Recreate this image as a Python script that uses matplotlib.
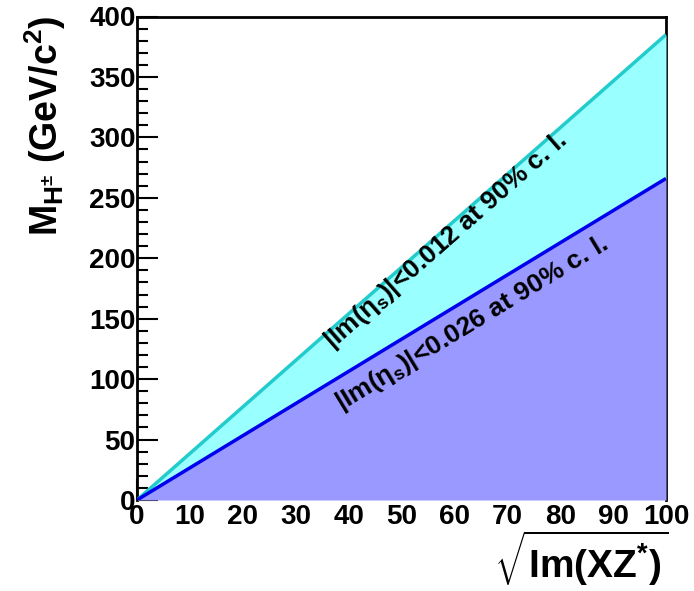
import numpy as np
import matplotlib
matplotlib.use("Agg")
import matplotlib.pyplot as plt

# values
x_limits = [0, 100]
y_limits = [0, 400]
upper_end = 385.0   # |Im(eta_s)| < 0.012 curve at x = 100
lower_end = 266.0   # |Im(eta_s)| < 0.026 curve at x = 100
upper_text = r'|Im($\eta_{s}$)|<0.012 at 90% c. l.'
lower_text = r'|Im($\eta_{s}$)|<0.026 at 90% c. l.'
x_title = r'$\sqrt{\mathrm{Im(XZ^{*})}}$'
y_title = r'M$_{\mathrm{H}^{\pm}}$ (GeV/c$^{2}$)'

plt.rcParams['font.family'] = ['Liberation Sans', 'DejaVu Sans']
plt.rcParams['font.weight'] = 'bold'
plt.rcParams['mathtext.fontset'] = 'custom'
plt.rcParams['mathtext.rm'] = 'Liberation Sans:bold'
plt.rcParams['mathtext.it'] = 'Liberation Sans:bold'
plt.rcParams['mathtext.bf'] = 'Liberation Sans:bold'

fig = plt.figure(figsize=(6.94, 5.91), dpi=100)
ax = fig.add_axes([137/694, 1 - 500/591, 529/694, 483.5/591])

xs = np.array(x_limits, dtype=float)
y_up = xs / x_limits[1] * upper_end
y_lo = xs / x_limits[1] * lower_end

# fills sit on top of the frame, like in the original
ax.fill_between(xs, y_lo, y_up, color='#99ffff', lw=0, zorder=3)
ax.fill_between(xs, 0, y_lo, color='#9999ff', lw=0, zorder=3)
ax.plot(xs, y_up, color='#22cccc', lw=2.5, zorder=4, solid_capstyle='butt')
ax.plot(xs, y_lo, color='#0000ee', lw=2.5, zorder=4, solid_capstyle='butt')
ax.axhline(0, color='#8899bb', lw=0.8, zorder=3.5)

ax.set_xlim(x_limits)
ax.set_ylim(y_limits)
ax.set_xticks(np.arange(0, 101, 10))
ax.set_yticks(np.arange(0, 401, 50))
ax.set_yticks(np.arange(0, 401, 10), minor=True)
ax.tick_params(axis='both', which='both', direction='in', labelsize=20, pad=1)
ax.tick_params(axis='y', which='major', length=15, width=1.5)
ax.tick_params(axis='y', which='minor', length=8, width=1.5)
ax.tick_params(axis='x', which='major', length=15, width=1.5, pad=3)
for s in ['left', 'top', 'right']:
    ax.spines[s].set_linewidth(2)
ax.spines['bottom'].set_visible(False)
for lab in ax.get_xticklabels() + ax.get_yticklabels():
    lab.set_fontweight('bold')


def screen_angle(slope_end):
    p0 = ax.transData.transform((0, 0))
    p1 = ax.transData.transform((100, slope_end))
    return np.degrees(np.arctan2(p1[1] - p0[1], p1[0] - p0[0]))


ax.text(37.0, 124, upper_text, rotation=screen_angle(upper_end),
        rotation_mode='anchor', ha='left', va='baseline',
        fontsize=19, fontweight='bold', zorder=5)
ax.text(38.7, 74, lower_text, rotation=screen_angle(lower_end),
        rotation_mode='anchor', ha='left', va='baseline',
        fontsize=19, fontweight='bold', zorder=5)

fig.text(45/694, 1 - 15/591, y_title, rotation=90, ha='center', va='top',
         fontsize=27, fontweight='bold')
fig.text(668/694, 1 - 588/591, x_title, ha='right', va='bottom',
         fontsize=28, fontweight='bold')

fig.savefig('out.png', dpi=100)
